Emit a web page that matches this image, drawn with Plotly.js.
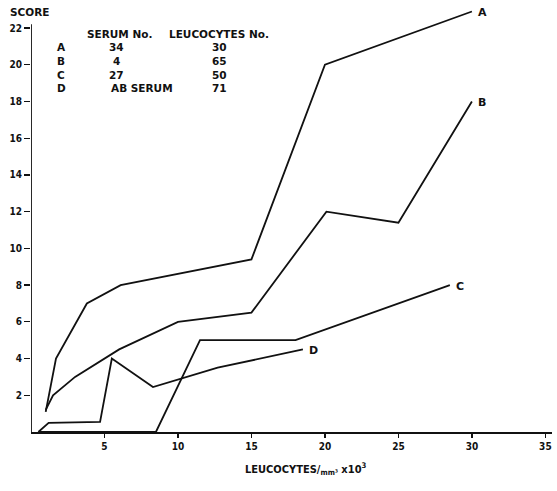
<!DOCTYPE html>
<html>
<head>
<meta charset="utf-8">
<script src="https://cdn.plot.ly/plotly-3.0.1.min.js"></script>
<style>html,body{margin:0;padding:0;background:#fff;}#chart{width:557px;height:491px;}</style>
</head>
<body>
<div id="chart"></div>
<script>
// Series data (leucocytes x10^3 per mm3 vs score)
const seriesNames = ["A", "B", "C", "D"];
const xA = [1.0, 1.7, 3.8, 6.1, 15.0, 20.0, 30.0];
const yA = [1.1, 4.0, 7.0, 8.0, 9.4, 20.0, 22.9];
const xB = [1.0, 1.5, 3.0, 6.0, 10.0, 15.0, 20.1, 25.0, 30.0];
const yB = [1.2, 2.0, 3.0, 4.5, 6.0, 6.5, 12.0, 11.4, 18.0];
const xC = [0.6, 8.5, 11.5, 18.0, 28.5];
const yC = [0.0, 0.0, 5.0, 5.0, 8.0];
const xD = [0.5, 1.2, 4.7, 5.5, 8.3, 12.7, 18.5];
const yD = [0.0, 0.5, 0.55, 4.0, 2.45, 3.5, 4.5];

// Legend table contents
const tableLetters = ["A", "B", "C", "D"];
const serumNos = ["34", "4", "27", "AB SERUM"];
const leucocyteNos = ["30", "65", "50", "71"];

const xTicks = [5, 10, 15, 20, 25, 30, 35];
const yTicks = [2, 4, 6, 8, 10, 12, 14, 16, 18, 20, 22];

const FONT = "DejaVu Sans Condensed, DejaVu Sans, sans-serif";
const FONTW = "DejaVu Sans, sans-serif";
const xs = [xA, xB, xC, xD];
const ys = [yA, yB, yC, yD];

const traces = seriesNames.map((n, i) => ({
  x: xs[i], y: ys[i], name: n, type: "scatter", mode: "lines",
  line: {color: "#111", width: 1.8}, showlegend: false, hoverinfo: "skip"
}));

const annotations = [];
// curve end labels
seriesNames.forEach((n, i) => {
  const xx = xs[i][xs[i].length - 1], yy = ys[i][ys[i].length - 1];
  annotations.push({x: xx, y: yy, xref: "x", yref: "y", text: n, showarrow: false,
    xanchor: "left", yanchor: "middle", xshift: 4, yshift: -1,
    font: {family: FONTW, size: 11, color: "#111", weight: 700}});
});
// table header
const tf = {family: FONTW, size: 10.5, color: "#111", weight: 700};
annotations.push({x: 6.05, y: 21.7, xref: "x", yref: "y", text: "SERUM No.", showarrow: false, font: tf});
annotations.push({x: 12.8, y: 21.7, xref: "x", yref: "y", text: "LEUCOCYTES No.", showarrow: false, font: tf});
const rowY = [20.95, 20.2, 19.45, 18.75];
tableLetters.forEach((l, i) => {
  annotations.push({x: 2.05, y: rowY[i], xref: "x", yref: "y", text: l, showarrow: false, font: tf});
  const sx = serumNos[i].length > 3 ? 7.55 : 5.85;
  annotations.push({x: sx, y: rowY[i], xref: "x", yref: "y", text: serumNos[i], showarrow: false, font: tf});
  annotations.push({x: 12.85, y: rowY[i], xref: "x", yref: "y", text: leucocyteNos[i], showarrow: false, font: tf});
});
// y axis title
annotations.push({x: 0, y: 1, xref: "paper", yref: "paper", text: "SCORE", showarrow: false,
  xanchor: "left", yanchor: "bottom", xshift: -23, yshift: -14, font: {family: FONTW, size: 10.5, color: "#111", weight: 700}});
// x axis title
annotations.push({x: 0.527, y: 0, xref: "paper", yref: "paper",
  text: "LEUCOCYTES/<sub>mm³</sub> x10<sup>3</sup>", showarrow: false,
  xanchor: "center", yanchor: "top", yshift: -27, font: {family: FONT, size: 11, color: "#111", weight: 700}});

const layout = {
  width: 557, height: 491,
  margin: {l: 31, r: 5, t: 6, b: 59},
  paper_bgcolor: "#fff", plot_bgcolor: "#fff",
  font: {family: FONT, color: "#111", size: 10, weight: 700},
  xaxis: {range: [0, 35.45], tickvals: xTicks, ticktext: xTicks.map(String),
    showgrid: false, zeroline: false, showline: true, linecolor: "#111", linewidth: 1.6,
    ticks: "outside", ticklen: 4, tickwidth: 1.3, tickcolor: "#111",
    tickfont: {family: FONT, size: 10, color: "#111", weight: 700}, fixedrange: true},
  yaxis: {range: [0, 23.2], tickvals: yTicks, ticktext: yTicks.map(String),
    showgrid: false, zeroline: false, showline: false,
    ticks: "outside", ticklen: 6, tickwidth: 1.3, tickcolor: "#111",
    tickfont: {family: FONT, size: 10, color: "#111", weight: 700}, fixedrange: true},
  shapes: [{type: "line", xref: "x", yref: "y", x0: 0, x1: 0, y0: 0, y1: 22.2,
    line: {color: "#111", width: 1.8}}],
  annotations: annotations,
  showlegend: false
};

Plotly.newPlot("chart", traces, layout, {staticPlot: true, displayModeBar: false});
</script>
</body>
</html>
